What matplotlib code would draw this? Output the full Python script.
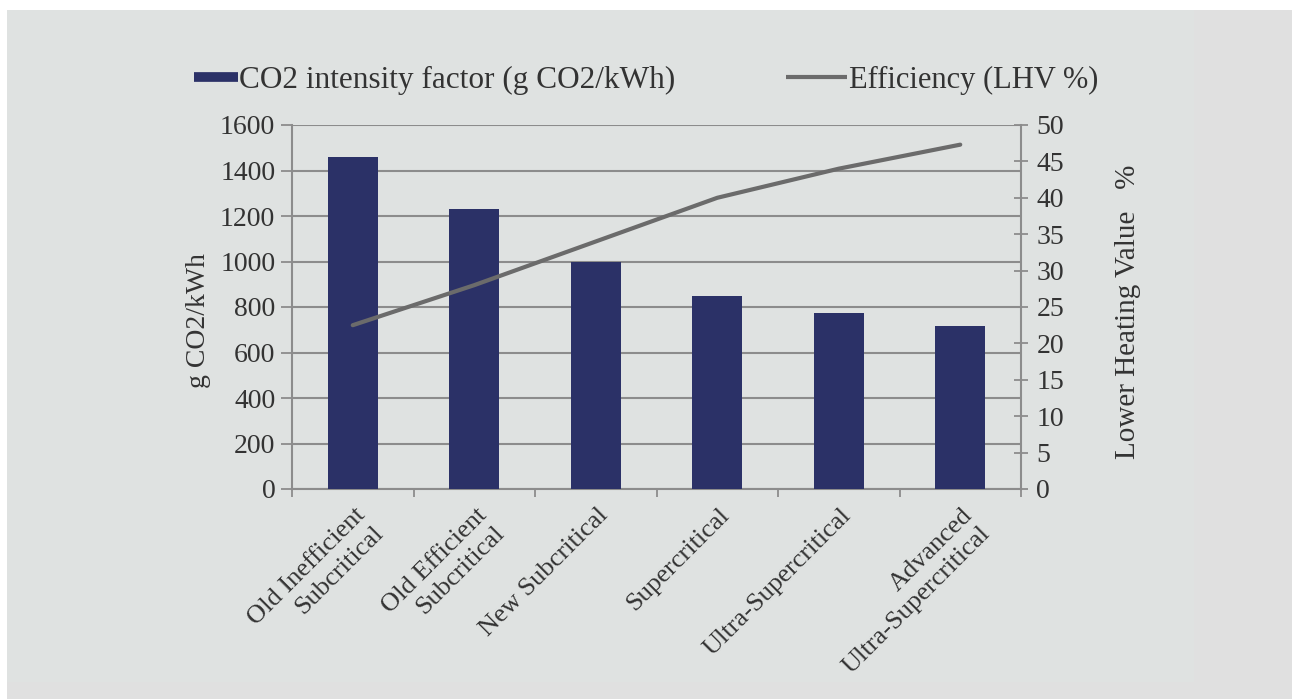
import matplotlib.pyplot as plt
import matplotlib.transforms as mtransforms
from matplotlib.lines import Line2D
from matplotlib.patches import Rectangle
import numpy as np

categories = ['Old Inefficient\nSubcritical', 'Old Efficient\nSubcritical', 'New Subcritical',
              'Supercritical', 'Ultra-Supercritical', 'Advanced\nUltra-Supercritical']
co2_intensity = [1460, 1230, 1000, 850, 775, 715]
efficiency = [22.5, 28, 34, 40, 44, 47.3]

left_ticks = list(range(0, 1601, 200))
right_ticks = list(range(0, 51, 5))

bar_color = '#2b3167'
line_color = '#6b6b6b'
grid_color = '#8c8c8c'
text_color = '#333333'

plt.rcParams['font.family'] = ['Liberation Serif', 'DejaVu Serif']

fig = plt.figure(figsize=(12.92, 6.99), dpi=100)
fig.patch.set_facecolor('#e0e0e0')
# white margins at top and left, lighter inner panel
fig.patches.append(Rectangle((0, 1 - 10 / 699), 1, 10 / 699, transform=fig.transFigure,
                             facecolor='white', edgecolor='none', zorder=-5))
fig.patches.append(Rectangle((0, 0), 7 / 1292, 1, transform=fig.transFigure,
                             facecolor='white', edgecolor='none', zorder=-5))
fig.patches.append(Rectangle((7 / 1292, 1 - 682 / 699), (1194 - 7) / 1292, (682 - 10) / 699,
                             transform=fig.transFigure, facecolor='#dfe2e1', edgecolor='none', zorder=-5))

ax = fig.add_axes([292 / 1292, 1 - 489 / 699, (1021 - 292) / 1292, (489 - 125) / 699])
ax.set_facecolor('none')
x = np.arange(len(categories))
ax.bar(x, co2_intensity, width=0.41, color=bar_color, zorder=3)
ax.set_xlim(-0.5, len(categories) - 0.5)
ax.set_ylim(0, 1600)
ax.set_yticks(left_ticks)
ax.set_yticklabels([str(v) for v in left_ticks])
ax.yaxis.grid(True, color=grid_color, linewidth=1.5, zorder=0)
ax.set_axisbelow(True)

# category separators as major ticks, names on minor ticks
ax.set_xticks(np.arange(len(categories) + 1) - 0.5, minor=False)
ax.set_xticklabels([])
ax.set_xticks(x, minor=True)
ax.set_xticklabels(categories, minor=True, rotation=45, ha='right', va='top',
                   rotation_mode='anchor', fontsize=19, color=text_color, linespacing=1.2)
ax.tick_params(axis='x', which='major', direction='out', length=6, color=grid_color, width=1.3)
ax.tick_params(axis='x', which='minor', length=0, pad=11)
offset = mtransforms.ScaledTranslation(1 / 100, 0, fig.dpi_scale_trans)
for lbl in ax.get_xticklabels(minor=True):
    lbl.set_transform(lbl.get_transform() + offset)

ax.tick_params(axis='y', direction='out', length=8, color=grid_color, width=1.3,
               labelsize=20, labelcolor=text_color, pad=4)
for side in ['top', 'right']:
    ax.spines[side].set_visible(False)
for side in ['left', 'bottom']:
    ax.spines[side].set_color(grid_color)
    ax.spines[side].set_linewidth(1.5)
ax.set_ylabel('g CO2/kWh', fontsize=20, color=text_color)
ax.yaxis.set_label_coords(-0.111, 0.464)

ax2 = ax.twinx()
ax2.plot(x, efficiency, color=line_color, linewidth=3, solid_capstyle='round', zorder=4)
ax2.set_ylim(0, 50)
ax2.set_yticks(right_ticks)
ax2.set_yticklabels([str(v) for v in right_ticks])
ax2.tick_params(axis='y', direction='inout', length=10, color=grid_color, width=1.3,
                labelsize=20, labelcolor=text_color, pad=6)
for side in ['top', 'left', 'bottom']:
    ax2.spines[side].set_visible(False)
ax2.spines['right'].set_color(grid_color)
ax2.spines['right'].set_linewidth(1.5)
ax2.set_ylabel('Lower Heating Value   %', fontsize=21, color=text_color)
ax2.yaxis.set_label_coords(1.129, 0.486)

# legend, one entry each so the handles can differ in length
leg1 = fig.legend([Line2D([0], [0], color=bar_color, linewidth=7, solid_capstyle='butt')],
                  ['CO2 intensity factor (g CO2/kWh)'], loc='center left',
                  bbox_to_anchor=(194 / 1292, 1 - 80 / 699), frameon=False, fontsize=22.5,
                  handlelength=1.4, handletextpad=0.05, borderpad=0, borderaxespad=0)
leg2 = fig.legend([Line2D([0], [0], color=line_color, linewidth=3, solid_capstyle='butt')],
                  ['Efficiency (LHV %)'], loc='center left',
                  bbox_to_anchor=(786 / 1292, 1 - 80 / 699), frameon=False, fontsize=22,
                  handlelength=2.0, handletextpad=0.05, borderpad=0, borderaxespad=0)
for leg in (leg1, leg2):
    for t in leg.get_texts():
        t.set_color(text_color)

fig.savefig('out.png', dpi=100, facecolor=fig.get_facecolor())
